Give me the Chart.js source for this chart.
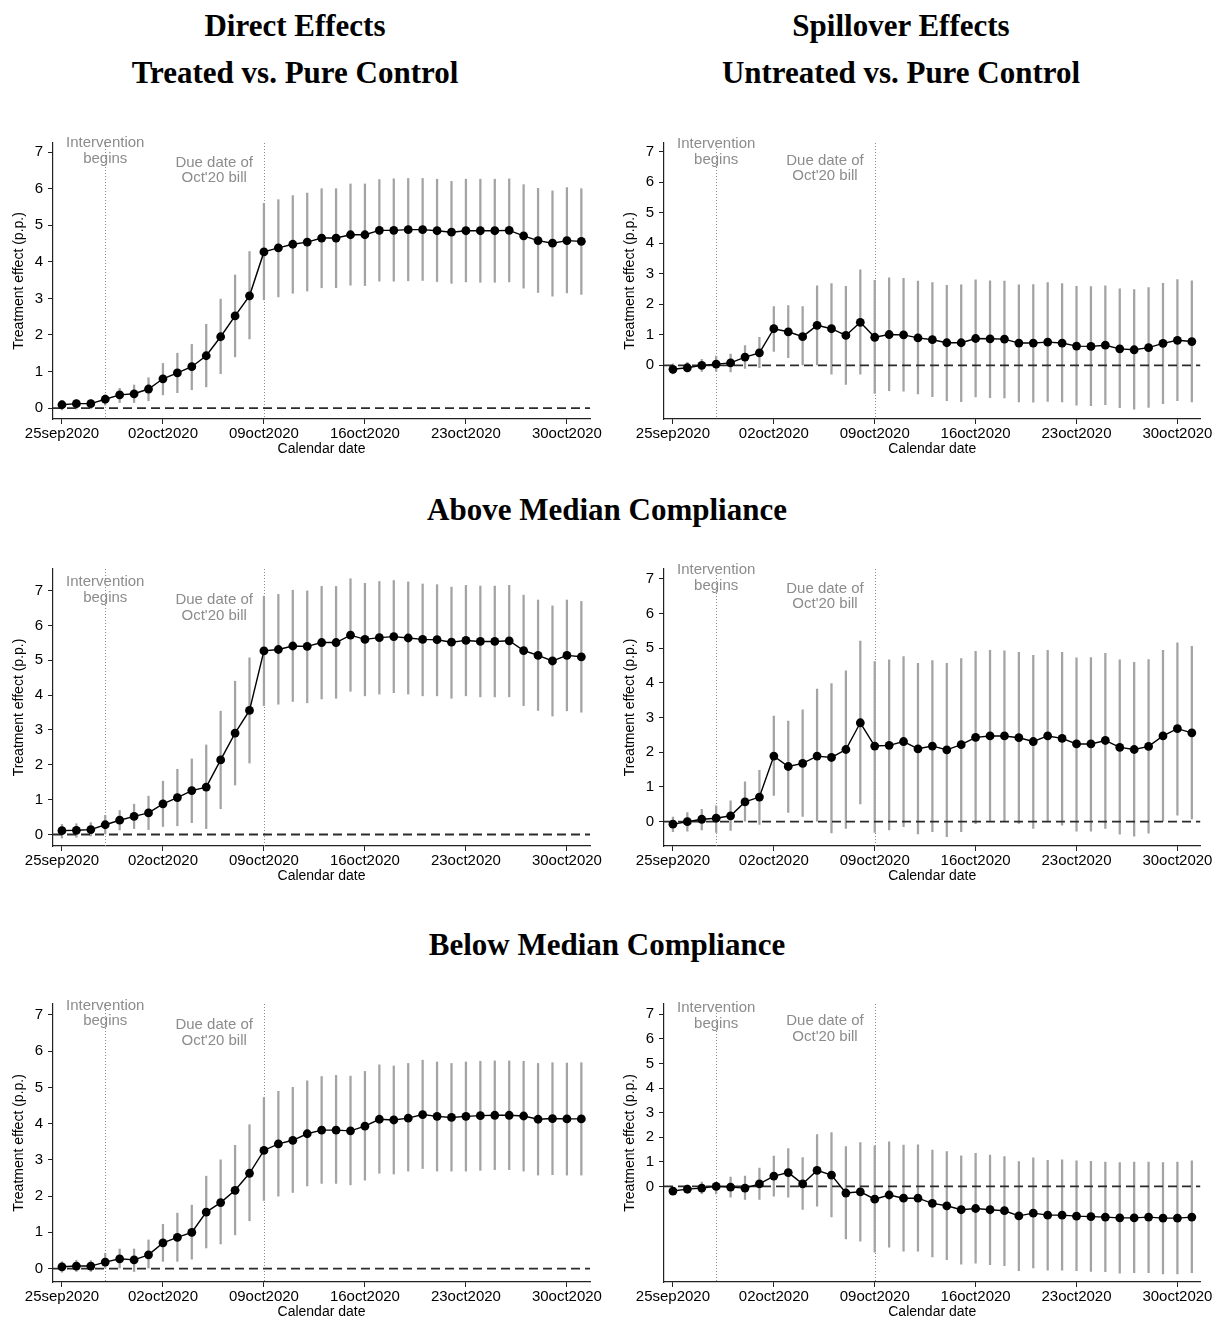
<!DOCTYPE html>
<html>
<head>
<meta charset="utf-8">
<script src="https://cdn.jsdelivr.net/npm/chart.js@4.4.1/dist/chart.umd.min.js"></script>
<style>
  body { margin: 0; background: #fff; width: 1214px; height: 1322px; position: relative; overflow: hidden; }
  .title { position: absolute; font-family: "Liberation Serif", "Times New Roman", serif; font-weight: bold;
           font-size: 31px; line-height: 31px; white-space: nowrap; transform: translateX(-50%); color: #000; }
  canvas { position: absolute; }
</style>
</head>
<body>
<div class="title" style="left:295px;top:10px">Direct Effects</div>
<div class="title" style="left:295px;top:57px">Treated vs. Pure Control</div>
<div class="title" style="left:901px;top:10px">Spillover Effects</div>
<div class="title" style="left:901px;top:57px">Untreated vs. Pure Control</div>
<div class="title" style="left:607px;top:494px">Above Median Compliance</div>
<div class="title" style="left:607px;top:929px">Below Median Compliance</div>

<canvas id="p1"></canvas><canvas id="p2"></canvas>
<canvas id="p3"></canvas><canvas id="p4"></canvas>
<canvas id="p5"></canvas><canvas id="p6"></canvas>

<script>
// calendar days, 25sep2020 .. 31oct2020 (x = day index)
const dates = ['25sep2020','26sep2020','27sep2020','28sep2020','29sep2020','30sep2020',
  '01oct2020','02oct2020','03oct2020','04oct2020','05oct2020','06oct2020','07oct2020','08oct2020',
  '09oct2020','10oct2020','11oct2020','12oct2020','13oct2020','14oct2020','15oct2020','16oct2020',
  '17oct2020','18oct2020','19oct2020','20oct2020','21oct2020','22oct2020','23oct2020','24oct2020',
  '25oct2020','26oct2020','27oct2020','28oct2020','29oct2020','30oct2020','31oct2020'];
const tickDays = [0, 7, 14, 21, 28, 35];
const tickLabels = ['25sep2020', '02oct2020', '09oct2020', '16oct2020', '23oct2020', '30oct2020'];
const yTicks = [0, 1, 2, 3, 4, 5, 6, 7];
const refDays = [3, 14]; // intervention begins, due date of Oct'20 bill

// Direct effects: treated vs pure control
const directEst = [0.09,0.12,0.12,0.24,0.36,0.39,0.52,0.80,0.96,1.13,1.43,1.95,2.52,3.07,4.27,4.38,4.48,4.54,4.65,4.65,4.74,4.74,4.86,4.86,4.88,4.88,4.85,4.81,4.85,4.85,4.85,4.86,4.71,4.58,4.51,4.58,4.56];
const directLo  = [-0.05,-0.03,-0.02,0.08,0.15,0.15,0.20,0.36,0.42,0.50,0.58,0.94,1.40,1.89,2.96,3.04,3.14,3.20,3.29,3.29,3.36,3.35,3.47,3.47,3.48,3.49,3.46,3.41,3.45,3.44,3.44,3.45,3.28,3.16,3.06,3.15,3.11];
const directHi  = [0.20,0.22,0.22,0.36,0.54,0.63,0.83,1.22,1.50,1.74,2.29,2.98,3.64,4.28,5.60,5.70,5.81,5.88,6.00,6.00,6.13,6.13,6.25,6.27,6.28,6.28,6.26,6.20,6.26,6.26,6.26,6.27,6.11,6.01,5.94,6.03,6.00];

// Spillover effects: untreated vs pure control
const spillEst = [-0.13,-0.08,0.00,0.04,0.08,0.27,0.41,1.20,1.10,0.94,1.31,1.20,0.98,1.41,0.92,1.01,1.00,0.90,0.84,0.74,0.74,0.88,0.87,0.86,0.73,0.73,0.76,0.73,0.63,0.62,0.66,0.54,0.51,0.58,0.72,0.82,0.78];
const spillLo  = [-0.28,-0.22,-0.20,-0.20,-0.22,-0.10,-0.08,0.46,0.25,0.00,0.00,-0.29,-0.63,-0.29,-0.92,-0.83,-0.85,-0.94,-1.03,-1.16,-1.19,-1.04,-1.06,-1.07,-1.20,-1.21,-1.18,-1.20,-1.31,-1.32,-1.29,-1.39,-1.44,-1.38,-1.26,-1.16,-1.20];
const spillHi  = [0.05,0.10,0.20,0.30,0.37,0.65,0.92,1.93,1.96,1.93,2.61,2.68,2.59,3.13,2.79,2.87,2.85,2.76,2.71,2.62,2.64,2.80,2.77,2.76,2.64,2.65,2.71,2.68,2.59,2.58,2.61,2.51,2.48,2.55,2.69,2.81,2.77];

// Above median compliance
const aboveDirectEst = [0.11,0.12,0.14,0.28,0.41,0.52,0.62,0.88,1.06,1.26,1.36,2.14,2.91,3.56,5.27,5.31,5.41,5.40,5.51,5.51,5.72,5.60,5.65,5.68,5.64,5.60,5.59,5.52,5.57,5.54,5.54,5.56,5.28,5.14,4.98,5.14,5.10];
const aboveDirectLo  = [-0.10,-0.08,-0.04,0.00,0.13,0.17,0.14,0.23,0.25,0.34,0.17,0.74,1.42,2.05,3.70,3.74,3.82,3.78,3.89,3.91,4.11,3.98,4.03,4.07,4.03,3.98,3.98,3.91,3.98,3.95,3.95,3.95,3.70,3.56,3.40,3.55,3.51];
const aboveDirectHi  = [0.29,0.31,0.34,0.55,0.69,0.87,1.10,1.53,1.87,2.17,2.57,3.54,4.40,5.07,6.84,6.89,7.01,6.99,7.12,7.12,7.34,7.21,7.26,7.29,7.25,7.19,7.17,7.10,7.15,7.13,7.13,7.15,6.87,6.73,6.56,6.73,6.69];

const aboveSpillEst = [-0.07,0.00,0.07,0.10,0.17,0.57,0.71,1.89,1.59,1.68,1.89,1.85,2.08,2.85,2.18,2.20,2.31,2.10,2.18,2.07,2.22,2.43,2.47,2.47,2.42,2.31,2.47,2.40,2.24,2.24,2.34,2.14,2.08,2.17,2.47,2.68,2.56];
const aboveSpillLo  = [-0.29,-0.27,-0.24,-0.31,-0.25,0.00,-0.08,0.76,0.27,0.15,0.00,-0.32,-0.19,0.51,-0.31,-0.24,-0.14,-0.35,-0.29,-0.43,-0.29,-0.06,0.00,0.00,-0.05,-0.19,0.00,-0.10,-0.27,-0.27,-0.19,-0.36,-0.42,-0.33,0.00,0.19,0.08];
const aboveSpillHi  = [0.13,0.26,0.36,0.46,0.60,1.15,1.48,3.04,2.90,3.22,3.82,3.98,4.35,5.20,4.61,4.66,4.76,4.56,4.64,4.56,4.70,4.91,4.94,4.92,4.88,4.79,4.94,4.88,4.72,4.73,4.85,4.66,4.59,4.67,4.94,5.15,5.05];

// Below median compliance
const belowDirectEst = [0.05,0.07,0.07,0.18,0.27,0.24,0.38,0.71,0.86,1.00,1.56,1.82,2.16,2.63,3.26,3.44,3.54,3.72,3.82,3.82,3.80,3.93,4.12,4.10,4.15,4.25,4.20,4.17,4.20,4.22,4.23,4.23,4.21,4.12,4.14,4.13,4.13];
const belowDirectLo  = [-0.10,-0.08,-0.08,0.00,0.00,-0.08,0.00,0.20,0.20,0.26,0.57,0.68,0.93,1.32,1.88,2.00,2.10,2.28,2.35,2.35,2.31,2.44,2.63,2.61,2.69,2.76,2.69,2.69,2.69,2.71,2.73,2.73,2.69,2.58,2.59,2.58,2.58];
const belowDirectHi  = [0.19,0.23,0.22,0.42,0.54,0.54,0.79,1.22,1.53,1.75,2.55,3.00,3.40,3.97,4.72,4.89,5.00,5.18,5.30,5.33,5.31,5.44,5.62,5.59,5.66,5.75,5.70,5.66,5.70,5.72,5.73,5.73,5.72,5.66,5.68,5.67,5.68];

const belowSpillEst = [-0.19,-0.11,-0.07,0.00,-0.03,-0.07,0.10,0.42,0.56,0.10,0.65,0.46,-0.27,-0.22,-0.52,-0.35,-0.48,-0.48,-0.69,-0.79,-0.95,-0.90,-0.95,-0.99,-1.20,-1.09,-1.17,-1.17,-1.21,-1.23,-1.25,-1.28,-1.28,-1.25,-1.29,-1.29,-1.25];
const belowSpillLo  = [-0.33,-0.29,-0.30,-0.31,-0.44,-0.53,-0.53,-0.40,-0.44,-0.94,-0.80,-1.24,-2.14,-2.23,-2.68,-2.47,-2.64,-2.64,-2.87,-2.98,-3.16,-3.12,-3.19,-3.23,-3.43,-3.32,-3.41,-3.41,-3.43,-3.46,-3.47,-3.53,-3.51,-3.51,-3.56,-3.56,-3.51];
const belowSpillHi  = [-0.05,0.05,0.18,0.18,0.38,0.42,0.74,1.23,1.54,1.17,2.11,2.19,1.62,1.78,1.65,1.81,1.68,1.69,1.48,1.42,1.24,1.34,1.27,1.21,1.01,1.16,1.06,1.08,1.04,1.02,0.99,0.97,0.99,0.99,0.97,0.99,1.04];

// text notes, placed in data units
const notes = [
  { x: 3, y: 7.25, lines: ['Intervention', 'begins'] },
  { x: 10.55, y: 6.72, lines: ['Due date of', "Oct'20 bill"] }
];

const xMin = -0.62, xMax = 36.6;

// where each panel sits on the page
const panels = [
  { id: 'p1', est: directEst,      lo: directLo,      hi: directHi,      yMin: -0.30, yMax: 7.25, left: 0,   top: 129, width: 605, plotH: 277 },
  { id: 'p2', est: spillEst,       lo: spillLo,       hi: spillHi,       yMin: -1.76, yMax: 7.29, left: 611, top: 129, width: 603, plotH: 277 },
  { id: 'p3', est: aboveDirectEst, lo: aboveDirectLo, hi: aboveDirectHi, yMin: -0.33, yMax: 7.62, left: 0,   top: 555, width: 605, plotH: 278 },
  { id: 'p4', est: aboveSpillEst,  lo: aboveSpillLo,  hi: aboveSpillHi,  yMin: -0.70, yMax: 7.28, left: 611, top: 555, width: 603, plotH: 278 },
  { id: 'p5', est: belowDirectEst, lo: belowDirectLo, hi: belowDirectHi, yMin: -0.37, yMax: 7.30, left: 0,   top: 990, width: 605, plotH: 279 },
  { id: 'p6', est: belowSpillEst,  lo: belowSpillLo,  hi: belowSpillHi,  yMin: -3.89, yMax: 7.42, left: 611, top: 990, width: 603, plotH: 279 }
];

Chart.defaults.font.family = "'Liberation Sans', Arial, sans-serif";
Chart.defaults.color = '#000';

const markers = {
  id: 'markers',
  beforeDatasetsDraw(chart) {
    const { ctx, chartArea, scales: { x } } = chart;
    ctx.save();
    ctx.strokeStyle = '#8a8a8a';
    ctx.lineWidth = 1;
    ctx.setLineDash([1, 2]);
    refDays.forEach(d => {
      const px = Math.round(x.getPixelForValue(d)) + 0.5;
      ctx.beginPath();
      ctx.moveTo(px, chartArea.top);
      ctx.lineTo(px, chartArea.bottom);
      ctx.stroke();
    });
    ctx.restore();
  },
  afterDatasetsDraw(chart) {
    const { ctx, scales: { x, y } } = chart;
    ctx.save();
    ctx.font = "15px 'Liberation Sans', Arial, sans-serif";
    ctx.fillStyle = '#8c8c8c';
    ctx.textAlign = 'center';
    ctx.textBaseline = 'middle';
    notes.forEach(n => {
      const px = x.getPixelForValue(n.x), py = y.getPixelForValue(n.y);
      n.lines.forEach((t, k) => ctx.fillText(t, px, py + k * 15.5));
    });
    ctx.restore();
  }
};

function axisGrid() {
  return { display: true, drawOnChartArea: false, drawTicks: true, tickLength: 5, tickColor: '#222', color: '#222', offset: false };
}

panels.forEach(p => {
  const canvas = document.getElementById(p.id);
  const h = 13 + p.plotH + 40;
  canvas.width = p.width; canvas.height = h;
  canvas.style.left = p.left + 'px'; canvas.style.top = p.top + 'px';
  canvas.style.width = p.width + 'px'; canvas.style.height = h + 'px';

  new Chart(canvas.getContext('2d'), {
    type: 'bar',
    data: {
      datasets: [
        {
          type: 'bar',
          data: p.lo.map((v, i) => ({ x: i, y: [v, p.hi[i]] })),
          backgroundColor: '#a3a3a3',
          barThickness: 1.6,
          order: 3
        },
        {
          type: 'line',
          data: [{ x: xMin, y: 0 }, { x: xMax, y: 0 }],
          borderColor: '#2b2b2b',
          borderWidth: 1.8,
          borderDash: [9, 5],
          pointRadius: 0,
          order: 2
        },
        {
          type: 'line',
          data: p.est.map((v, i) => ({ x: i, y: v })),
          borderColor: '#000',
          borderWidth: 1.4,
          pointRadius: 4.4,
          pointBackgroundColor: '#000',
          pointBorderWidth: 0,
          tension: 0,
          order: 1
        }
      ]
    },
    options: {
      responsive: false,
      animation: false,
      events: [],
      layout: { padding: { top: 13, right: p.width - 53 - 537, left: 0, bottom: 0 } },
      plugins: { legend: { display: false }, tooltip: { enabled: false } },
      scales: {
        x: {
          type: 'linear', min: xMin, max: xMax, offset: false,
          grid: axisGrid(),
          border: { display: true, color: '#222', width: 1.2 },
          afterBuildTicks: s => { s.ticks = tickDays.map(v => ({ value: v })); },
          afterFit: s => { s.height = 40; },
          ticks: { font: { size: 15 }, padding: 1, autoSkip: false, maxRotation: 0,
                   callback: (v, i) => tickLabels[i] },
          title: { display: true, text: 'Calendar date', font: { size: 14 }, padding: { top: 0, bottom: 1 } }
        },
        y: {
          type: 'linear', min: p.yMin, max: p.yMax,
          grid: axisGrid(),
          border: { display: true, color: '#222', width: 1.2 },
          afterBuildTicks: s => { s.ticks = yTicks.map(v => ({ value: v })); },
          afterFit: s => { s.width = 53; },
          ticks: { font: { size: 15 }, padding: 5, callback: v => String(v) },
          title: { display: true, text: 'Treatment effect (p.p.)', font: { size: 14 }, padding: { top: 11, bottom: 0 } }
        }
      }
    },
    plugins: [markers]
  });
});
</script>
</body>
</html>
